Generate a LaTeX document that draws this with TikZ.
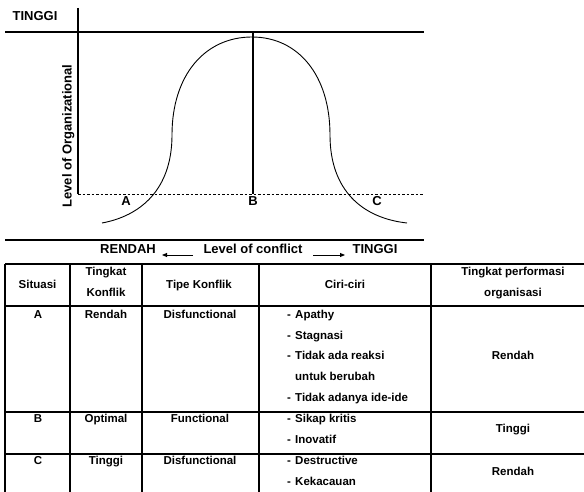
\documentclass[tikz,border=0pt]{standalone}
\usepackage{fontspec}
\setmainfont{Liberation Sans}
\usetikzlibrary{arrows.meta}
\begin{document}
\begin{tikzpicture}[x=1pt,y=-1pt,
  lbl/.style={font=\fontsize{13}{15}\selectfont\bfseries, inner sep=0pt, text height=0.72em, text depth=0pt},
  cell/.style={font=\fontsize{11.5}{14}\selectfont\bfseries, inner sep=0pt, text height=0.72em, text depth=0pt},
  item/.style={cell, anchor=west},
  axis/.style={line width=1.3pt},
  rule/.style={line width=1.2pt},
  curve/.style={line width=0.9pt},
  arr/.style={line width=0.9pt, -{Triangle[length=5pt,width=4pt]}}]
\useasboundingbox (0,0) rectangle (584,492);

% ---------- chart ----------
\coordinate (ytop) at (78,8);
\coordinate (ybot) at (78,194);
\coordinate (topL) at (5,32);
\coordinate (topR) at (424,32);
\coordinate (dashR) at (424,194);
\coordinate (btop) at (253,32);
\coordinate (bbot) at (253,194);
\coordinate (baseL) at (5,240);
\coordinate (baseR) at (424,240);

\draw[axis] (ytop) -- (ybot);
\draw[axis] (topL) -- (topR);
\draw[axis] (btop) -- (bbot);
\draw[line width=0.8pt, dash pattern=on 2.5pt off 2pt] (ybot) -- (dashR);
\draw[axis] (baseL) -- (baseR);

\draw[curve] (102,223) .. controls (140,216) and (172,190) .. (172,135)
  .. controls (172,75) and (205,37) .. (252,37)
  .. controls (298,37) and (330,75) .. (330,135)
  .. controls (330,190) and (362,218) .. (407,223);

\node[lbl] (tinggiY) at (35,17) {TINGGI};
\node[lbl, rotate=90] (ylab) at (68,136) {Level of Organizational};
\node[lbl] (la) at (126,202) {A};
\node[lbl] (lb) at (253,202) {B};
\node[lbl] (lc) at (377,202) {C};

\node[lbl] (rendah) at (128,250) {RENDAH};
\node[lbl] (xlab) at (253,250) {Level of conflict};
\node[lbl] (tinggiX) at (375,250) {TINGGI};
\coordinate (la1) at (193,255);
\coordinate (la2) at (162,255);
\coordinate (ra1) at (313,255);
\coordinate (ra2) at (345,255);
\draw[arr] (la1) -- (la2);
\draw[arr] (ra1) -- (ra2);

% ---------- table ----------
\draw[rule] (5,264) -- (590,264);
\draw[rule] (5,306) -- (590,306);
\draw[rule] (5,412) -- (590,412);
\draw[rule] (5,454) -- (590,454);
\foreach \x in {5,70,142,259,431}
  \draw[rule] (\x,264) -- (\x,493);

% header
\node[cell] (hs) at (37.5,285) {Situasi};
\node[cell] (ht1) at (106,272) {Tingkat};
\node[cell] (ht2) at (106,293) {Konflik};
\node[cell] (htk) at (199,285) {Tipe Konflik};
\node[cell] (hc) at (345,285) {Ciri-ciri};
\node[cell] (hp1) at (513,272) {Tingkat performasi};
\node[cell] (hp2) at (513,293) {organisasi};

% row A
\node[cell] (a1) at (38,315) {A};
\node[cell] (a2) at (106,315) {Rendah};
\node[cell] (a3) at (200,315) {Disfunctional};
\node[item] (ad1) at (287,315) {-};
\node[item] (at1) at (295,315) {Apathy};
\node[item] (ad2) at (287,336) {-};
\node[item] (at2) at (295,336) {Stagnasi};
\node[item] (ad3) at (287,356) {-};
\node[item] (at3) at (295,356) {Tidak ada reaksi};
\node[item] (at3b) at (295,377) {untuk berubah};
\node[item] (ad4) at (287,398) {-};
\node[item] (at4) at (295,398) {Tidak adanya ide-ide};
\node[cell] (a5) at (513,356) {Rendah};

% row B
\node[cell] (b1) at (38,419) {B};
\node[cell] (b2) at (106,419) {Optimal};
\node[cell] (b3) at (200,419) {Functional};
\node[item] (bd1) at (287,419) {-};
\node[item] (bt1) at (295,419) {Sikap kritis};
\node[item] (bd2) at (287,440) {-};
\node[item] (bt2) at (295,440) {Inovatif};
\node[cell] (b5) at (513,429) {Tinggi};

% row C
\node[cell] (c1) at (38,461) {C};
\node[cell] (c2) at (106,461) {Tinggi};
\node[cell] (c3) at (200,461) {Disfunctional};
\node[item] (cd1) at (287,461) {-};
\node[item] (ct1) at (295,461) {Destructive};
\node[item] (cd2) at (287,482) {-};
\node[item] (ct2) at (295,482) {Kekacauan};
\node[cell] (c5) at (513,472) {Rendah};
\end{tikzpicture}
\end{document}
